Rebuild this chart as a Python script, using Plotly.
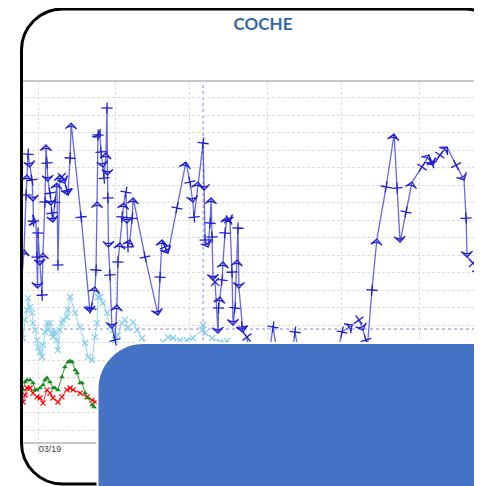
import pandas as pd
import plotly.graph_objects as go

# ---------------- data (x = days since 2019-03-01, y = value) ----------------
base_date = pd.Timestamp("2019-03-01")

coche_day = [-6.2, -5.6, -4.8, -4.4, -4.0, -3.2, -2.4, -2.0, -1.8, -0.8, -0.4, -0.2, 0.0, 0.8, 1.6, 2.0,
             2.8, 3.2, 3.6, 4.0, 4.8, 5.2, 5.6, 6.0, 6.8, 7.6, 8.0, 8.8, 9.6, 10.8, 11.6, 12.0, 12.9, 13.3,
             17.3, 20.9, 21.3, 22.9, 23.3, 23.7, 24.1, 24.9, 25.3, 26.1, 26.5, 27.3, 27.7, 27.9, 28.1, 28.3,
             28.9, 29.7, 30.9, 31.7, 32.1, 32.9, 33.7, 34.5, 35.3, 35.7, 36.1, 36.9, 37.8, 38.2, 43.0, 48.2,
             49.0, 49.8, 51.0, 52.2, 55.8, 59.4, 61.0, 62.2, 62.7, 64.3, 66.3, 66.7, 67.1, 68.3, 69.1, 69.5,
             69.9, 70.3, 71.1, 72.3, 72.5, 73.1, 73.9, 74.3, 75.1, 75.9, 76.7, 77.1, 77.9, 78.3, 79.1, 79.9,
             80.3, 80.7, 81.9, 82.3, 83.9, 85.1, 88.4, 92.4, 94.4, 96.4, 99.2, 102.0, 103.2, 105.2, 113.3,
             120.5, 122.1, 126.1, 128.9, 130.5, 131.7, 132.1, 134.1, 136.1, 139.8, 143.0, 144.2, 145.4,
             147.8, 150.2, 154.2, 157.0, 158.2, 158.6, 161.4, 164.3, 167.9, 171.1, 171.9, 172.3, 174.7,
             177.5, 181.5]
coche_val = [91.4, 102.9, 134.3, 145.7, 157.7, 150.3, 142.9, 130.9, 119.4, 118.9, 98.9, 81.1, 112.6, 94.3,
             77.1, 101.1, 130.3, 162.9, 152.6, 142.3, 135.4, 128.6, 124.0, 118.9, 130.3, 141.1, 94.3, 145.7,
             144.6, 141.1, 137.1, 134.3, 155.4, 175.4, 121.7, 67.4, 69.7, 81.7, 91.4, 130.3, 168.6, 167.4,
             158.9, 150.3, 144.0, 158.3, 184.0, 145.7, 132.6, 104.6, 88.6, 58.3, 51.4, 71.4, 96.0, 106.9,
             121.7, 129.7, 136.0, 118.3, 104.6, 108.6, 121.1, 132.6, 98.9, 65.7, 87.4, 108.6, 104.6, 101.1,
             126.9, 153.1, 141.7, 130.3, 121.7, 141.7, 164.0, 137.1, 108.6, 104.6, 118.3, 132.6, 110.3, 85.7,
             84.6, 55.4, 69.7, 76.0, 85.7, 96.0, 112.6, 121.7, 120.0, 118.9, 90.3, 60.0, 69.7, 97.1, 115.4,
             81.1, 58.9, 56.0, 53.1, 40.0, 31.4, 40.0, 58.9, 40.0, 28.6, 42.9, 56.0, 40.0, 31.4, 45.7, 56.0,
             60.0, 62.9, 57.1, 51.4, 44.6, 80.0, 109.1, 138.9, 169.1, 138.3, 107.4, 124.6, 141.7, 150.3,
             157.1, 152.6, 151.4, 157.1, 161.7, 151.4, 142.9, 121.1, 98.9, 95.4, 90.3, 82.9]

light_day = [-6.0, -5.2, -4.4, -4.0, -3.2, -2.4, -2.0, -1.2, -0.4, 0.0, 0.8, 1.6, 2.0, 2.8, 3.6, 4.0, 4.8,
             5.6, 6.0, 6.8, 7.6, 8.0, 8.8, 9.6, 10.0, 11.6, 12.0, 12.9, 14.9, 16.9, 18.9, 20.1, 21.7, 22.9,
             23.7, 24.1, 24.9, 26.1, 27.7, 28.9, 30.1, 30.9, 32.1, 33.7, 34.9, 36.1, 38.2, 39.8, 41.8, 45.0,
             48.2, 50.2, 52.2, 54.2, 57.0, 59.8, 62.2, 65.9, 66.3, 67.1, 69.9, 73.1, 75.9, 81.1]
light_val = [52.6, 62.9, 68.6, 75.4, 70.3, 66.9, 61.1, 57.1, 51.4, 47.4, 44.6, 41.7, 48.6, 56.0, 61.1, 57.1,
             61.1, 55.4, 53.1, 56.0, 51.4, 45.7, 57.1, 61.1, 62.9, 64.6, 68.6, 76.0, 66.9, 58.9, 49.7, 41.7,
             40.0, 53.1, 61.1, 76.0, 76.0, 72.6, 66.9, 58.9, 57.1, 51.4, 54.3, 61.1, 62.9, 58.3, 61.7, 57.1,
             52.6, 44.6, 45.7, 50.3, 53.1, 52.6, 51.4, 51.4, 52.6, 57.1, 60.0, 55.4, 52.6, 50.3, 50.9, 45.7]

green_day = [-6.0, -5.2, -4.4, -3.2, -2.0, -1.2, -0.4, 0.8, 2.0, 2.8, 3.6, 4.8, 6.0, 6.8, 8.0, 9.6, 10.8,
             12.0, 12.9, 13.7, 14.9, 15.7, 16.9, 17.7, 18.9, 20.1, 21.7, 22.5, 24.9, 28.9]
green_val = [22.9, 27.4, 28.6, 28.6, 26.9, 22.9, 22.9, 24.0, 25.7, 28.6, 29.7, 27.4, 24.0, 24.0, 22.9, 30.3,
             36.0, 38.9, 39.4, 38.9, 34.3, 32.6, 26.9, 26.9, 21.1, 18.3, 14.3, 13.1, 11.4, 10.3]

red_day = [-6.0, -5.2, -4.4, -3.2, -2.0, -0.4, 0.8, 2.0, 3.6, 4.8, 6.0, 8.0, 9.6, 11.6, 12.9, 14.1, 16.9,
           19.7, 21.7, 22.9, 26.9]
red_val = [16.0, 20.0, 24.0, 24.0, 21.1, 18.9, 18.3, 15.4, 22.9, 21.1, 18.3, 16.0, 18.9, 22.9, 24.0, 22.9,
           21.1, 18.9, 17.1, 16.0, 14.3]

ref_day = 66.3     # dotted vertical reference
ref_val = 57.7     # dotted horizontal reference
title_text = "COCHE"
tick_format = "%m/%y"


def to_dates(days):
    return [base_date + pd.Timedelta(days=d) for d in days]


# ---------------- figure ----------------
OFF = 8                      # default page (body) margin of the html page
W, H = 482 - OFF, 486 - OFF  # figure fills the window
PL, PT, PR, PB = 22, 82, 482, 442   # plot area in window pixels
ML, MT, MR, MB = PL - OFF, PT - OFF, 0, 486 - PB
PW, PH = PR - PL, PB - PT

fig = go.Figure()

fig.add_trace(go.Scatter(
    x=to_dates(red_day), y=red_val, mode="lines+markers",
    line=dict(color="rgba(255,0,0,0.8)", width=1),
    marker=dict(symbol="x-thin", size=5, color="#ff0000", line=dict(color="#ff0000", width=1.2)),
    showlegend=False))
fig.add_trace(go.Scatter(
    x=to_dates(green_day), y=green_val, mode="lines+markers",
    line=dict(color="rgba(20,130,20,0.85)", width=1),
    marker=dict(symbol="triangle-up", size=5, color="#1a8a1a"),
    showlegend=False))
fig.add_trace(go.Scatter(
    x=to_dates(light_day), y=light_val, mode="lines+markers",
    line=dict(color="rgba(135,206,235,0.9)", width=1),
    marker=dict(symbol="x-thin", size=6, color="#87ceeb", line=dict(color="#87ceeb", width=1.2)),
    showlegend=False))

symbols = ["cross-thin" if i % 2 == 0 else "arrow-wide-open" for i in range(len(coche_day))]
fig.add_trace(go.Scatter(
    x=to_dates(coche_day), y=coche_val, mode="lines+markers",
    line=dict(color="rgba(40,40,215,0.7)", width=1.3),
    marker=dict(symbol=symbols, size=8, angleref="previous", color="#2020cc",
                line=dict(color="#2020cc", width=1.3)),
    showlegend=False))

x_lo = base_date + pd.Timedelta(days=-6.43)
x_hi = base_date + pd.Timedelta(days=178.3)


def P(x, y):
    # window pixel -> paper coordinates
    return ((x - PL) / PW, (PB - y) / PH)


def path(points_cmds):
    out = []
    for cmd, pts in points_cmds:
        if cmd == "Z":
            out.append("Z")
            continue
        coords = " ".join("%.5f,%.5f" % P(px, py) for px, py in pts)
        out.append(cmd + coords)
    return " ".join(out)


k = 0.5523
# black rounded border
L_, T_, R_, B_, r = 21.5, 9.0, 506.0, 484.0, 41.0
border = path([
    ("M", [(L_ + r, T_)]),
    ("L", [(R_ - r, T_)]),
    ("C", [(R_ - r + k * r, T_), (R_, T_ + r - k * r), (R_, T_ + r)]),
    ("L", [(R_, B_ - r)]),
    ("C", [(R_, B_ - r + k * r), (R_ - r + k * r, B_), (R_ - r, B_)]),
    ("L", [(L_ + r, B_)]),
    ("C", [(L_ + r - k * r, B_), (L_, B_ - r + k * r), (L_, B_ - r)]),
    ("L", [(L_, T_ + r)]),
    ("C", [(L_, T_ + r - k * r), (L_ + r - k * r, T_), (L_ + r, T_)]),
    ("Z", None),
])
# blue rounded panel
bl, bt, br, bb, rr = 97.5, 343.0, 500.0, 500.0, 46.0
panel = path([
    ("M", [(bl, bb)]),
    ("L", [(bl, bt + rr)]),
    ("C", [(bl, bt + rr - k * rr), (bl + rr - k * rr, bt), (bl + rr, bt)]),
    ("L", [(br, bt)]),
    ("L", [(br, bb)]),
    ("Z", None),
])

shapes = [
    dict(type="line", xref="x", yref="paper", x0=base_date + pd.Timedelta(days=ref_day),
         x1=base_date + pd.Timedelta(days=ref_day), y0=0, y1=1,
         line=dict(color="rgba(90,90,235,0.75)", width=1, dash="dot"), layer="below"),
    dict(type="line", xref="paper", yref="y", x0=0, x1=1, y0=ref_val, y1=ref_val,
         line=dict(color="rgba(90,90,235,0.75)", width=1, dash="dot"), layer="below"),
    dict(type="path", xref="paper", yref="paper", path=border,
         line=dict(color="black", width=3), fillcolor="rgba(0,0,0,0)", layer="above"),
    dict(type="path", xref="paper", yref="paper", path=panel,
         line=dict(color="white", width=2), fillcolor="#4472C4", layer="above"),
]

fig.update_layout(
    width=W, height=H,
    margin=dict(l=ML, r=MR, t=MT, b=MB, pad=0),
    paper_bgcolor="white", plot_bgcolor="white",
    title=dict(text="<b>%s</b>" % title_text, x=(263 - OFF) / W, xref="container", xanchor="center",
               y=1 - (24 - OFF) / H, yref="container", yanchor="middle",
               font=dict(family="Lato", size=17, color="#34689e")),
    shapes=shapes,
    xaxis=dict(type="date", range=[x_lo, x_hi], dtick="M1", tick0="2019-03-01",
               tickformat=tick_format, showgrid=True, gridcolor="#dcdcdc", griddash="3px,2px",
               gridwidth=1, showline=True, linecolor="#c8c8c8", linewidth=1.5, mirror=True,
               ticks="outside", ticklen=10, tickcolor="#d8d8d8", tickwidth=1,
               ticklabelshift=12, ticklabelstandoff=-13,
               tickfont=dict(family="Liberation Sans", size=9, color="#404040"),
               zeroline=False, fixedrange=True),
    yaxis=dict(range=[-6.86, 198.9], dtick=10, tick0=0, showticklabels=False,
               showgrid=True, gridcolor="#dcdcdc", griddash="3px,2px", gridwidth=1,
               zeroline=False, showline=False, ticks=""),
)

fig.write_html("out.html")
